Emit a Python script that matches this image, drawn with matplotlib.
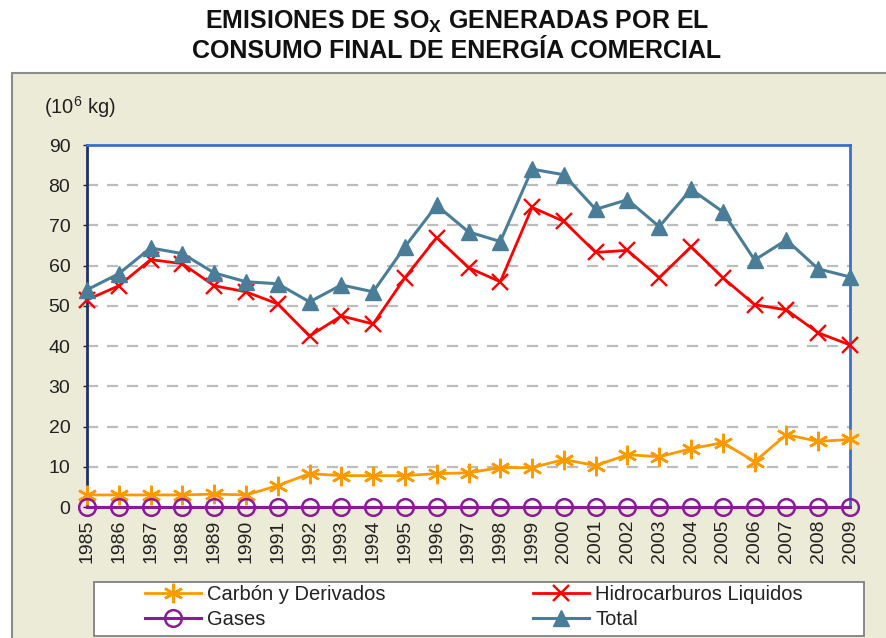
import matplotlib
matplotlib.use("Agg")
import matplotlib.pyplot as plt
from matplotlib.patches import Rectangle

plt.rcParams['font.family'] = ['Liberation Sans', 'DejaVu Sans']
plt.rcParams['mathtext.fontset'] = 'custom'
plt.rcParams['mathtext.rm'] = 'Liberation Sans'
plt.rcParams['mathtext.bf'] = 'Liberation Sans:bold'

years = list(range(1985, 2010))
carbon = [3, 3, 3, 3, 3.2, 3, 5.3, 8.3, 7.8, 7.8, 7.8, 8.3, 8.5, 9.8, 9.8,
          11.8, 10.3, 13, 12.5, 14.5, 16, 11.3, 18, 16.3, 16.8]
hidro = [51.5, 55, 61.5, 60.5, 55, 53.5, 50.5, 42.5, 47.5, 45.5, 57, 67, 59.5,
         56, 74.5, 71, 63.3, 63.8, 57, 64.7, 57, 50.3, 49, 43.3, 40.3]
gases = [0] * 25
total = [54, 58, 64.4, 63, 58.2, 56, 55.5, 51, 55.2, 53.5, 64.7, 75, 68.4, 66,
         84, 82.6, 74, 76.4, 69.7, 79, 73.4, 61.4, 66.4, 59.2, 57.2]
labels = ['Carbón y Derivados', 'Hidrocarburos Liquidos', 'Gases', 'Total']
yticks = list(range(0, 91, 10))

W, H = 887, 638
fig = plt.figure(figsize=(W / 100, H / 100), dpi=100)
fig.patch.set_facecolor('white')

panel = Rectangle((12 / W, -0.01), 1.0, 1 - 73 / H + 0.01, transform=fig.transFigure,
                  facecolor='#EBEBD7', edgecolor='#8C8C8C', linewidth=1.5, zorder=-10)
fig.patches.append(panel)

fig.text(457 / W, 1 - 22 / H, r'EMISIONES DE SO$_{\mathbf{X}}$ GENERADAS POR EL',
         ha='center', va='center', fontsize=18, fontweight='bold', color='#111111')
fig.text(457 / W, 1 - 51 / H, 'CONSUMO FINAL DE ENERGÍA COMERCIAL',
         ha='center', va='center', fontsize=18, fontweight='bold', color='#111111')

ax = fig.add_axes([87 / W, 1 - 507 / H, (850 - 87) / W, (507 - 145) / H], zorder=2)
ax.set_facecolor('white')

ax.plot(years, carbon, color='#FF9900', lw=2, marker=(6, 2, 0), ms=14, mew=1.8,
        label=labels[0], clip_on=False, zorder=4)
ax.plot(years, hidro, color='#FF0000', lw=2, marker='x', ms=12, mew=1.7,
        label=labels[1], clip_on=False, zorder=4)
ax.plot(years, gases, color='#8B1A9A', lw=2.2, marker='o', ms=12, mew=1.8,
        mfc='none', label=labels[2], clip_on=False, zorder=5)
ax.plot(years, total, color='#4A7E98', lw=2.2, marker='^', ms=11,
        label=labels[3], clip_on=False, zorder=4)

ax.set_xlim(1985, 2009)
ax.set_ylim(0, 90)
ax.set_yticks(yticks)
ax.set_xticks(years)
ax.set_xticklabels([str(y) for y in years], rotation=90, fontsize=14, color='#222222')
ax.tick_params(axis='y', labelsize=14, colors='#222222', length=3, width=1, pad=9)
ax.tick_params(axis='x', length=0, pad=9)
for y in yticks[1:-1]:
    ax.axhline(y, color='#BDBDBD', lw=1.6, ls=(0, (5, 4)), zorder=1)

ax.spines['left'].set_color('#1F2F6B')
ax.spines['left'].set_linewidth(2)
ax.spines['top'].set_color('#3C6FD0')
ax.spines['top'].set_linewidth(2)
ax.spines['right'].set_color('#3C6FD0')
ax.spines['right'].set_linewidth(2)
ax.spines['bottom'].set_color('#1F2F6B')
ax.spines['bottom'].set_linewidth(1.5)

fig.text(44 / W, 1 - 107 / H, '(10$^6$ kg)', ha='left', va='center', fontsize=14.5,
         color='#222222')

frame = Rectangle((94 / W, 2 / H), (864 - 94) / W, (636 - 582) / H,
                  transform=fig.transFigure, facecolor='white', edgecolor='#808080',
                  linewidth=1.3, zorder=1)
fig.patches.append(frame)

h, l = ax.get_legend_handles_labels()
order = [0, 2, 1, 3]
leg = fig.legend([h[i] for i in order], [l[i] for i in order], ncol=2,
                 loc='upper left', bbox_to_anchor=(145 / W, 1 - 585 / H),
                 fontsize=14.5, frameon=False,
                 handlelength=2.8, handletextpad=0.3, borderpad=0, borderaxespad=0,
                 labelspacing=0.3, columnspacing=7.3)
leg.set_zorder(3)
for t in leg.get_texts():
    t.set_color('#222222')

fig.savefig('out.png', dpi=100, facecolor='white')
